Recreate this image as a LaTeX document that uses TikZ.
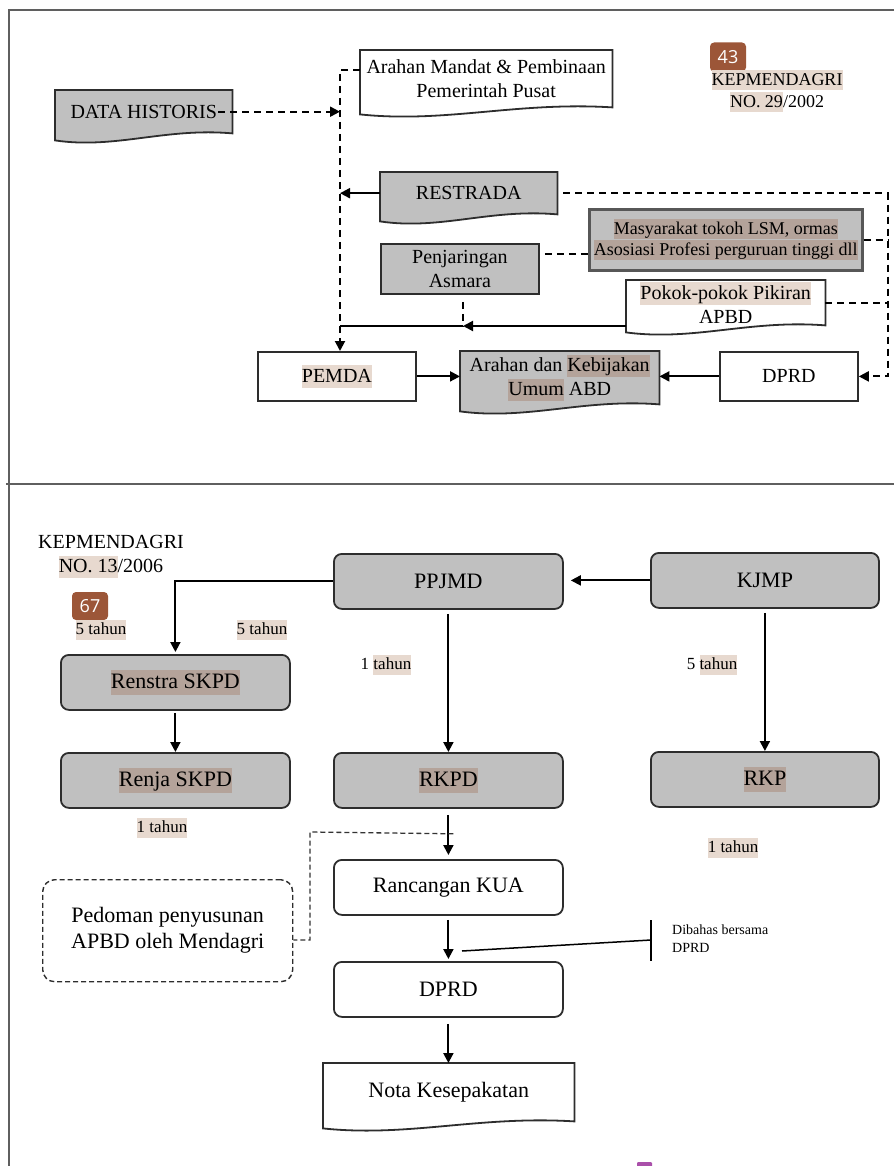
\documentclass[tikz,border=0pt]{standalone}
\usepackage{fontspec}
\setmainfont{Liberation Serif}
\newfontfamily\badgefont{Open Sans}
\usetikzlibrary{arrows.meta,calc,backgrounds}
\definecolor{boxgray}{RGB}{192,192,192}
\definecolor{hlbeige}{RGB}{231,217,207}
\definecolor{hldark}{RGB}{180,163,154}
\definecolor{badge}{RGB}{156,86,56}
\definecolor{framec}{RGB}{95,95,95}
\definecolor{linec}{RGB}{45,45,45}
\definecolor{purp}{RGB}{170,80,170}
\newcommand\hlB[1]{{\setlength\fboxsep{0pt}\colorbox{hlbeige}{\rule[-0.27em]{0pt}{1.12em}#1}}}
\newcommand\hlD[1]{{\setlength\fboxsep{0pt}\colorbox{hldark}{\rule[-0.27em]{0pt}{1.12em}#1}}}
\newcommand\toptext{\fontsize{20}{24}\selectfont}
\newcommand\bottext{\fontsize{22}{26}\selectfont}
\newcommand\lbltext{\fontsize{17}{20}\selectfont}
\newcommand\docshape[2]{\draw[boxline, fill=#2] (#1.north west) -- (#1.north east) -- (#1.south east)
  .. controls ($(#1.south west)!0.62!(#1.south east)+(0,-6)$) and ($(#1.south west)!0.34!(#1.south east)+(0,16)$) .. ($(#1.south west)+(0,7)$) -- cycle;}
\tikzset{
  boxline/.style={draw=linec, line width=1.8pt},
  docbox/.style={draw=none, anchor=north west, inner sep=0pt, align=center, font=\toptext},
  topbox/.style={boxline, anchor=north west, inner sep=0pt, align=center, font=\toptext},
  rbox/.style={boxline, rounded corners=8pt, anchor=north west, inner sep=0pt, minimum width=229pt, minimum height=55pt, font=\bottext},
  conn/.style={draw=black, line width=2pt},
  dashc/.style={conn, dash pattern=on 7pt off 5pt},
  dashs/.style={draw=black!80, line width=1.3pt, dash pattern=on 5pt off 3pt},
  lbl/.style={font=\lbltext, inner sep=0pt},
  badgebox/.style={fill=badge, rounded corners=4pt, text=white, font=\badgefont\fontsize{18}{18}\selectfont, minimum width=36pt, minimum height=29pt, inner sep=0pt},
  >={Triangle[length=10pt,width=10pt]}
}
\begin{document}
\begin{tikzpicture}[x=1pt,y=-1pt]
\useasboundingbox (0,0) rectangle (894,1166);
% ---------- top section nodes
\node[docbox, minimum width=177pt, minimum height=43pt] (dh) at (55,90) {DATA HISTORIS};
\node[docbox, minimum width=252pt, minimum height=57pt] (am) at (360,50) {Arahan Mandat \& Pembinaan\\Pemerintah Pusat};
\node[docbox, minimum width=177pt, minimum height=42pt] (rs) at (380,172) {RESTRADA};
\node[topbox, fill=boxgray, minimum width=158pt, minimum height=50pt] (pj) at (380,243) {Penjaringan\\Asmara};
\node[topbox, fill=boxgray, draw=linec!80, line width=2.6pt, minimum width=273pt, minimum height=61pt, font=\fontsize{18}{21}\selectfont] (ms) at (588,208) {\hlD{Masyarakat tokoh LSM, ormas}\\\hlD{Asosiasi Profesi perguruan tinggi dll}};
\node[docbox, minimum width=199pt, minimum height=45pt] (pk) at (626,280) {\hlB{Pokok-pokok Pikiran}\\APBD};
\node[topbox, minimum width=158pt, minimum height=49pt] (pm) at (257,351) {\hlB{PEMDA}};
\node[docbox, minimum width=199pt, minimum height=53pt] (ak) at (460,351) {Arahan dan \hlD{Kebijakan}\\\hlD{Umum} ABD};
\node[topbox, minimum width=138pt, minimum height=49pt] (dt) at (719,351) {DPRD};
\node[badgebox] (b43) at (728,57) {43};
\node[font=\fontsize{18}{22}\selectfont, align=center, inner sep=0pt] (kp1) at (777,91) {\hlB{KEPMENDAGRI}\\\hlB{NO. 29}/2002};
% ---------- top connectors
\coordinate (c1) at (340,70);
\coordinate (c2) at (340,326);
\coordinate (cR) at (888,193);
\coordinate (c4) at (463,326);
\draw[dashc] (am.west |- c1) -- (c1) -- (c2);
\draw[dashc,->] ($(dh.east)+(-14,0)$) -- (dh.east -| c1);
\draw[conn,->] (rs.west) -- (rs.west -| c1);
\draw[dashc,->] ($(rs.east)+(6,0)$) -- (rs.east -| cR) -- (cR |- dt.east) -- (dt.east);
\draw[dashc] (ms.east) -- (ms.east -| cR);
\draw[dashc] (pk.east) -- (pk.east -| cR);
\coordinate (c3) at ($(pj.east)+(5,-15)$);
\draw[dashc] (c3) -- (c3 -| ms.west);
\draw[conn,->] (pk.west |- c2) -- (c4);
\draw[conn] (c4) -- (c2);
\draw[dashc] ($(pj.south -| c4)+(0,7)$) -- (c4);
\draw[dashc,->] (c2) -- (c2 |- pm.north);
\draw[conn,->] (pm.east) -- (pm.east -| ak.west);
\draw[conn,->] (dt.west) -- (dt.west -| ak.east);
% ---------- bottom section nodes
\node[font=\fontsize{20}{24}\selectfont, align=center, inner sep=0pt] (kp2) at (111,557) {KEPMENDAGRI\\\hlB{NO. 13}/2006};
\node[badgebox, minimum height=28pt] (b67) at (90,606) {67};
\node[rbox, fill=boxgray] (pp) at (333,553) {PPJMD};
\node[rbox, fill=boxgray, minimum width=228pt] (kj) at (650,552) {KJMP};
\node[rbox, fill=boxgray] (rs2) at (60,654) {\hlD{Renstra SKPD}};
\node[rbox, fill=boxgray] (rj) at (60,752) {\hlD{Renja SKPD}};
\node[rbox, fill=boxgray] (rk) at (333,752) {\hlD{RKPD}};
\node[rbox, fill=boxgray, minimum width=228pt] (rp) at (650,751) {\hlD{RKP}};
\node[rbox] (rc) at (333,859) {Rancangan KUA};
\node[rbox] (dp) at (333,961) {DPRD};
\node[docbox, font=\bottext, minimum width=251pt, minimum height=58pt] (nt) at (323,1063) {Nota Kesepakatan};
\node[draw=linec, line width=1.4pt, dash pattern=on 5pt off 3pt, rounded corners=12pt, anchor=north west, inner sep=0pt, minimum width=250pt, minimum height=102pt, align=center, font=\bottext] (pd) at (42,879) {Pedoman penyusunan\\APBD oleh Mendagri};
\node[font=\fontsize{14}{18}\selectfont, align=left, anchor=west, inner sep=0pt] (dib) at (672,939) {Dibahas bersama\\DPRD};
\node[lbl] (t1) at (101,630) {\hlB{5 tahun}};
\node[lbl] (t2) at (262,630) {\hlB{5 tahun}};
\node[lbl] (t3) at (386,665) {1 \hlB{tahun}};
\node[lbl] (t4) at (712,665) {5 \hlB{tahun}};
\node[lbl] (t5) at (162,828) {\hlB{1 tahun}};
\node[lbl] (t6) at (733,848) {\hlB{1 tahun}};
% ---------- bottom connectors
\draw[conn,->,shorten >=7pt] (kj.west) -- (kj.west -| pp.east);
\draw[conn,->,shorten >=2pt] (pp.west) -| (rs2.north);
\draw[conn,->] ($(pp.south)+(0,4)$) -- (rk.north);
\draw[conn,->] ($(kj.south)+(0,4)$) -- (kj.south |- rp.north);
\draw[conn,->] ($(rs2.south)+(0,2)$) -- (rj.north);
\draw[conn,->,shorten >=4pt] ($(rk.south)+(0,6)$) -- (rc.north);
\draw[conn,->,shorten >=2pt] ($(rc.south)+(0,4)$) -- (dp.north);
\draw[conn,->] ($(dp.south)+(0,6)$) -- (dp.south |- nt.north);
\coordinate (d1) at (310,832);
\coordinate (d2) at (310,940);
\draw[dashs] ($(rk.south)+(5,25)$) -- (d1) -- (d2) -- (d2 -| pd.east);
\coordinate (la) at (462,951);
\coordinate (lb) at (651,940);
\draw[draw=black, line width=1.5pt] (la) -- (lb);
\draw[draw=black, line width=1.5pt] ($(lb)+(0,-20)$) -- ($(lb)+(0,21)$);
% ---------- background shapes
\begin{scope}[on background layer]
  \docshape{dh}{boxgray}
  \docshape{am}{white}
  \docshape{rs}{boxgray}
  \docshape{pk}{white}
  \docshape{ak}{boxgray}
  \docshape{nt}{white}
  \draw[framec, line width=1.8pt] (894,10) -- (9,10) -- (9,1166);
  \draw[framec, line width=1.8pt] (6,484) -- (894,484);
  \fill[purp, rounded corners=1pt] (637,1162) rectangle (652,1168);
\end{scope}
\end{tikzpicture}
\end{document}
